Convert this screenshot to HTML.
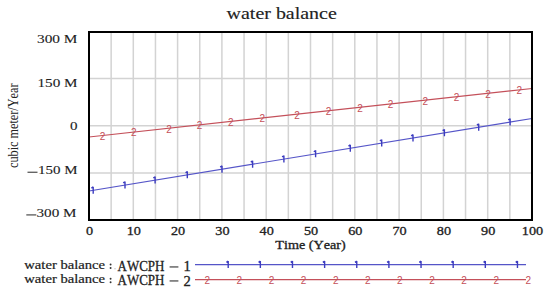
<!DOCTYPE html><html><head><meta charset="utf-8"><style>html,body{margin:0;padding:0;background:#fff;width:550px;height:294px;overflow:hidden}svg{display:block}text{font-kerning:none}</style></head><body>
<svg width="550" height="294" viewBox="0 0 550 294">
<rect width="550" height="294" fill="#fff"/>
<path d="M111.15 32V220M133.30 32V220M155.45 32V220M177.60 32V220M199.75 32V220M221.90 32V220M244.05 32V220M266.20 32V220M288.35 32V220M310.50 32V220M332.65 32V220M354.80 32V220M376.95 32V220M399.10 32V220M421.25 32V220M443.40 32V220M465.55 32V220M487.70 32V220M509.85 32V220M89 78.40H532M89 125.70H532M89 172.90H532" stroke="#d3d3d3" stroke-width="1.5" fill="none"/>
<polyline points="89.00,137.00 532.00,88.50" stroke="#c4505a" stroke-width="1.2" fill="none"/>
<polyline points="89.00,191.00 532.00,118.50" stroke="#5555c8" stroke-width="1.2" fill="none"/>
<path d="M91.40 188.15L93.20 186.95M93.20 186.75V193.75M123.20 182.94L125.00 181.74M125.00 181.54V188.54M153.30 178.02L155.10 176.82M155.10 176.62V183.62M185.50 172.75L187.30 171.55M187.30 171.35V178.35M220.20 167.07L222.00 165.87M222.00 165.67V172.67M250.80 162.06L252.60 160.86M252.60 160.66V167.66M282.10 156.94L283.90 155.74M283.90 155.54V162.54M313.80 151.75L315.60 150.55M315.60 150.35V157.35M348.50 146.07L350.30 144.87M350.30 144.67V151.67M379.90 140.93L381.70 139.73M381.70 139.53V146.53M411.20 135.81L413.00 134.61M413.00 134.41V141.41M442.60 130.67L444.40 129.47M444.40 129.27V136.27M476.90 125.06L478.70 123.86M478.70 123.66V130.66M508.30 119.92L510.10 118.72M510.10 118.52V125.52" stroke="#3c3cc0" stroke-width="1.4" fill="none"/>
<text x="102.5" y="139.8" font-family="Liberation Sans, sans-serif" font-size="10" fill="#c4505a" text-anchor="middle">2</text>
<text x="133.9" y="136.4" font-family="Liberation Sans, sans-serif" font-size="10" fill="#c4505a" text-anchor="middle">2</text>
<text x="169.0" y="132.5" font-family="Liberation Sans, sans-serif" font-size="10" fill="#c4505a" text-anchor="middle">2</text>
<text x="199.5" y="129.2" font-family="Liberation Sans, sans-serif" font-size="10" fill="#c4505a" text-anchor="middle">2</text>
<text x="230.9" y="125.7" font-family="Liberation Sans, sans-serif" font-size="10" fill="#c4505a" text-anchor="middle">2</text>
<text x="262.3" y="122.3" font-family="Liberation Sans, sans-serif" font-size="10" fill="#c4505a" text-anchor="middle">2</text>
<text x="297.0" y="118.5" font-family="Liberation Sans, sans-serif" font-size="10" fill="#c4505a" text-anchor="middle">2</text>
<text x="328.6" y="115.0" font-family="Liberation Sans, sans-serif" font-size="10" fill="#c4505a" text-anchor="middle">2</text>
<text x="360.0" y="111.6" font-family="Liberation Sans, sans-serif" font-size="10" fill="#c4505a" text-anchor="middle">2</text>
<text x="390.5" y="108.3" font-family="Liberation Sans, sans-serif" font-size="10" fill="#c4505a" text-anchor="middle">2</text>
<text x="425.2" y="104.5" font-family="Liberation Sans, sans-serif" font-size="10" fill="#c4505a" text-anchor="middle">2</text>
<text x="456.6" y="101.0" font-family="Liberation Sans, sans-serif" font-size="10" fill="#c4505a" text-anchor="middle">2</text>
<text x="488.0" y="97.6" font-family="Liberation Sans, sans-serif" font-size="10" fill="#c4505a" text-anchor="middle">2</text>
<text x="519.3" y="94.2" font-family="Liberation Sans, sans-serif" font-size="10" fill="#c4505a" text-anchor="middle">2</text>
<rect x="89" y="32" width="443" height="188" fill="none" stroke="#000" stroke-width="2"/>
<text x="226.6" y="19.0" font-family="Liberation Serif, serif" font-size="16.5" font-weight="normal" fill="#222" text-anchor="start" textLength="110.2" lengthAdjust="spacingAndGlyphs" stroke="#222" stroke-width="0.15">water balance</text>
<text x="37" y="42.5" font-family="Liberation Serif, serif" font-size="12" font-weight="normal" fill="#222" text-anchor="start" textLength="40.5" lengthAdjust="spacingAndGlyphs" stroke="#222" stroke-width="0.1">300 M</text>
<text x="37.5" y="86.6" font-family="Liberation Serif, serif" font-size="12" font-weight="normal" fill="#222" text-anchor="start" textLength="40" lengthAdjust="spacingAndGlyphs" stroke="#222" stroke-width="0.1">150 M</text>
<text x="70" y="129.5" font-family="Liberation Serif, serif" font-size="12" font-weight="normal" fill="#222" text-anchor="start" textLength="7.5" lengthAdjust="spacingAndGlyphs" stroke="#222" stroke-width="0.1">0</text>
<text x="38" y="173.6" font-family="Liberation Serif, serif" font-size="12" font-weight="normal" fill="#222" text-anchor="start" textLength="39.5" lengthAdjust="spacingAndGlyphs" stroke="#222" stroke-width="0.1">150 M</text>
<rect x="27.5" y="171.7" width="10" height="1.05" fill="#333"/>
<text x="36.5" y="217" font-family="Liberation Serif, serif" font-size="12" font-weight="normal" fill="#222" text-anchor="start" textLength="40" lengthAdjust="spacingAndGlyphs" stroke="#222" stroke-width="0.1">300 M</text>
<rect x="26.3" y="214.4" width="10" height="1.05" fill="#333"/>
<text x="89.5" y="234.7" font-family="Liberation Serif, serif" font-size="12" font-weight="normal" fill="#222" text-anchor="middle" textLength="7.1" lengthAdjust="spacingAndGlyphs" stroke="#222" stroke-width="0.3">0</text>
<text x="133.8" y="234.7" font-family="Liberation Serif, serif" font-size="12" font-weight="normal" fill="#222" text-anchor="middle" textLength="14.2" lengthAdjust="spacingAndGlyphs" stroke="#222" stroke-width="0.3">10</text>
<text x="178.1" y="234.7" font-family="Liberation Serif, serif" font-size="12" font-weight="normal" fill="#222" text-anchor="middle" textLength="14.2" lengthAdjust="spacingAndGlyphs" stroke="#222" stroke-width="0.3">20</text>
<text x="222.39999999999998" y="234.7" font-family="Liberation Serif, serif" font-size="12" font-weight="normal" fill="#222" text-anchor="middle" textLength="14.2" lengthAdjust="spacingAndGlyphs" stroke="#222" stroke-width="0.3">30</text>
<text x="266.7" y="234.7" font-family="Liberation Serif, serif" font-size="12" font-weight="normal" fill="#222" text-anchor="middle" textLength="14.2" lengthAdjust="spacingAndGlyphs" stroke="#222" stroke-width="0.3">40</text>
<text x="311.0" y="234.7" font-family="Liberation Serif, serif" font-size="12" font-weight="normal" fill="#222" text-anchor="middle" textLength="14.2" lengthAdjust="spacingAndGlyphs" stroke="#222" stroke-width="0.3">50</text>
<text x="355.29999999999995" y="234.7" font-family="Liberation Serif, serif" font-size="12" font-weight="normal" fill="#222" text-anchor="middle" textLength="14.2" lengthAdjust="spacingAndGlyphs" stroke="#222" stroke-width="0.3">60</text>
<text x="399.59999999999997" y="234.7" font-family="Liberation Serif, serif" font-size="12" font-weight="normal" fill="#222" text-anchor="middle" textLength="14.2" lengthAdjust="spacingAndGlyphs" stroke="#222" stroke-width="0.3">70</text>
<text x="443.9" y="234.7" font-family="Liberation Serif, serif" font-size="12" font-weight="normal" fill="#222" text-anchor="middle" textLength="14.2" lengthAdjust="spacingAndGlyphs" stroke="#222" stroke-width="0.3">80</text>
<text x="488.2" y="234.7" font-family="Liberation Serif, serif" font-size="12" font-weight="normal" fill="#222" text-anchor="middle" textLength="14.2" lengthAdjust="spacingAndGlyphs" stroke="#222" stroke-width="0.3">90</text>
<text x="532.5" y="234.7" font-family="Liberation Serif, serif" font-size="12" font-weight="normal" fill="#222" text-anchor="middle" textLength="21.299999999999997" lengthAdjust="spacingAndGlyphs" stroke="#222" stroke-width="0.3">100</text>
<text x="275.3" y="249.3" font-family="Liberation Serif, serif" font-size="12" font-weight="normal" fill="#222" text-anchor="start" textLength="70.5" lengthAdjust="spacingAndGlyphs" stroke="#222" stroke-width="0.3">Time (Year)</text>
<g transform="translate(17.9,168) rotate(-90)"><text style="font-kerning:none" x="0" y="0" font-family="Liberation Serif, serif" font-size="14.5" font-weight="normal" fill="#222" text-anchor="start" textLength="84.5" lengthAdjust="spacingAndGlyphs">cubic meter/Year</text></g>
<text x="24.3" y="269.1" font-family="Liberation Serif, serif" font-size="11.5" font-weight="normal" fill="#222" text-anchor="start" textLength="80.8" lengthAdjust="spacingAndGlyphs" stroke="#222" stroke-width="0.2">water balance</text>
<circle cx="110.6" cy="264.5" r="0.95" fill="#333"/><circle cx="110.6" cy="268.0" r="0.95" fill="#333"/>
<text x="117.6" y="270.90000000000003" font-family="Liberation Serif, serif" font-size="14" font-weight="normal" fill="#222" text-anchor="start" textLength="46.8" lengthAdjust="spacingAndGlyphs" stroke="#222" stroke-width="0.3">AWCPH</text>
<rect x="169.6" y="266.4" width="8.8" height="1.1" fill="#333"/>
<text x="183.6" y="271.40000000000003" font-family="Liberation Serif, serif" font-size="14" font-weight="normal" fill="#222" text-anchor="start" textLength="7.3" lengthAdjust="spacingAndGlyphs" stroke="#222" stroke-width="0.3">1</text>
<text x="24.3" y="283.3" font-family="Liberation Serif, serif" font-size="11.5" font-weight="normal" fill="#222" text-anchor="start" textLength="80.8" lengthAdjust="spacingAndGlyphs" stroke="#222" stroke-width="0.2">water balance</text>
<circle cx="110.6" cy="278.7" r="0.95" fill="#333"/><circle cx="110.6" cy="282.2" r="0.95" fill="#333"/>
<text x="117.6" y="285.1" font-family="Liberation Serif, serif" font-size="14" font-weight="normal" fill="#222" text-anchor="start" textLength="46.8" lengthAdjust="spacingAndGlyphs" stroke="#222" stroke-width="0.3">AWCPH</text>
<rect x="169.6" y="280.4" width="8.8" height="1.1" fill="#333"/>
<text x="183.6" y="285.6" font-family="Liberation Serif, serif" font-size="14" font-weight="normal" fill="#222" text-anchor="start" textLength="7.3" lengthAdjust="spacingAndGlyphs" stroke="#222" stroke-width="0.3">2</text>
<circle cx="115" cy="268.8" r="0.5" fill="#888"/>
<line x1="195" y1="264.6" x2="526" y2="264.6" stroke="#5555c8" stroke-width="1.2"/>
<line x1="195" y1="279.7" x2="526" y2="279.7" stroke="#c4505a" stroke-width="1.2"/>
<path d="M226.40 262.40L228.20 261.20M228.20 261.00V268.00M258.54 262.40L260.34 261.20M260.34 261.00V268.00M290.68 262.40L292.48 261.20M292.48 261.00V268.00M322.82 262.40L324.62 261.20M324.62 261.00V268.00M354.96 262.40L356.76 261.20M356.76 261.00V268.00M387.10 262.40L388.90 261.20M388.90 261.00V268.00M419.24 262.40L421.04 261.20M421.04 261.00V268.00M451.38 262.40L453.18 261.20M453.18 261.00V268.00M483.52 262.40L485.32 261.20M485.32 261.00V268.00M515.66 262.40L517.46 261.20M517.46 261.00V268.00" stroke="#3c3cc0" stroke-width="1.4" fill="none"/>
<text x="207.3" y="283.7" font-family="Liberation Sans, sans-serif" font-size="10" fill="#c4505a" text-anchor="middle">2</text>
<text x="239.4" y="283.7" font-family="Liberation Sans, sans-serif" font-size="10" fill="#c4505a" text-anchor="middle">2</text>
<text x="271.5" y="283.7" font-family="Liberation Sans, sans-serif" font-size="10" fill="#c4505a" text-anchor="middle">2</text>
<text x="303.6" y="283.7" font-family="Liberation Sans, sans-serif" font-size="10" fill="#c4505a" text-anchor="middle">2</text>
<text x="335.7" y="283.7" font-family="Liberation Sans, sans-serif" font-size="10" fill="#c4505a" text-anchor="middle">2</text>
<text x="367.8" y="283.7" font-family="Liberation Sans, sans-serif" font-size="10" fill="#c4505a" text-anchor="middle">2</text>
<text x="399.9" y="283.7" font-family="Liberation Sans, sans-serif" font-size="10" fill="#c4505a" text-anchor="middle">2</text>
<text x="432.0" y="283.7" font-family="Liberation Sans, sans-serif" font-size="10" fill="#c4505a" text-anchor="middle">2</text>
<text x="464.1" y="283.7" font-family="Liberation Sans, sans-serif" font-size="10" fill="#c4505a" text-anchor="middle">2</text>
<text x="496.2" y="283.7" font-family="Liberation Sans, sans-serif" font-size="10" fill="#c4505a" text-anchor="middle">2</text>
<text x="528.3" y="283.7" font-family="Liberation Sans, sans-serif" font-size="10" fill="#c4505a" text-anchor="middle">2</text>
</svg></body></html>
